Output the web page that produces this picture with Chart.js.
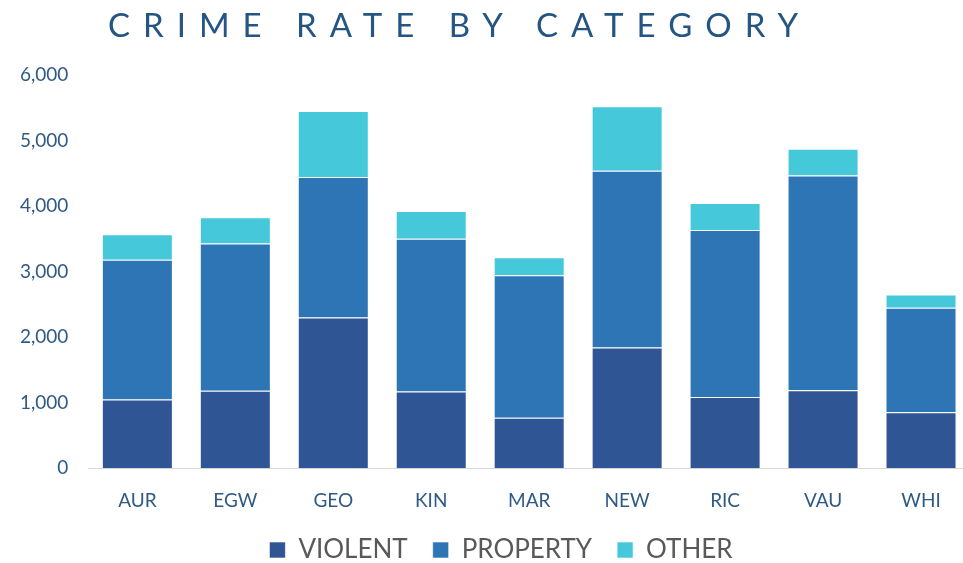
<!DOCTYPE html>
<html>
<head>
<meta charset="utf-8">
<script src="https://cdn.jsdelivr.net/npm/chart.js@4"></script>
<style>
  html, body { margin: 0; padding: 0; background: #fff; overflow: hidden; }
  #wrap { position: relative; width: 963px; height: 563px; overflow: hidden; }
  #title {
    position: absolute; top: 2px; left: 0; width: 963px;
    text-align: center; box-sizing: border-box;
    font-family: Lato, sans-serif; font-size: 33px; font-weight: 400;
    letter-spacing: 13px; color: #245583; margin: 0; line-height: 44px;
    text-indent: -44px; z-index: 2;
  }
  canvas { position: absolute; top: 0; left: 0; }
</style>
</head>
<body>
<div id="wrap">
  <h1 id="title">CRIME RATE BY CATEGORY</h1>
  <canvas id="crimeChart" width="972" height="573"></canvas>
</div>
<script>
// 지역별 범죄 건수
const categories = ['AUR', 'EGW', 'GEO', 'KIN', 'MAR', 'NEW', 'RIC', 'VAU', 'WHI'];
const violent  = [1050, 1180, 2300, 1170, 770, 1840, 1085, 1190, 855];
const property = [2130, 2250, 2145, 2330, 2175, 2700, 2550, 3275, 1595];
const other    = [390, 400, 1005, 425, 275, 985, 410, 410, 200];
const yTicks   = [0, 1000, 2000, 3000, 4000, 5000, 6000];

const seriesNames  = ['VIOLENT', 'PROPERTY', 'OTHER'];
const seriesColors = ['#305595', '#2E75B6', '#46C8DB'];

// 범례를 살짝 오른쪽으로 이동
const legendShift = {
    id: 'legendShift',
    afterLayout(chart) {
        if (chart.legend) chart.legend.left += 32;
    }
};

function createCrimeChart() {
    const canvas = document.getElementById('crimeChart');
    const ctx = canvas.getContext('2d');

    new Chart(ctx, {
        type: 'bar',
        data: {
            labels: categories,
            datasets: [violent, property, other].map((vals, i) => ({
                label: seriesNames[i],
                data: vals,
                backgroundColor: seriesColors[i],
                borderColor: 'rgba(255,255,255,0.6)',
                borderWidth: 1,
                barPercentage: 0.725,
                categoryPercentage: 1
            }))
        },
        options: {
            responsive: false,
            animation: false,
            layout: { padding: { top: 75, left: 0, right: 2, bottom: 0 } },
            plugins: {
                title: { display: false },
                tooltip: { enabled: false },
                legend: {
                    position: 'bottom',
                    labels: {
                        boxWidth: 16,
                        boxHeight: 16,
                        padding: 25,
                        color: '#595959',
                        font: { family: 'Lato', size: 26 }
                    }
                }
            },
            scales: {
                x: {
                    stacked: true,
                    grid: { display: false, drawTicks: false },
                    border: { color: '#D9D9D9', width: 1 },
                    ticks: {
                        color: '#2F5A86',
                        padding: 21,
                        font: { family: 'Lato', size: 19 }
                    },
                    // 범례를 축 라벨 쪽으로 당김
                    afterFit: axis => { axis.height -= 21; }
                },
                y: {
                    stacked: true,
                    min: 0,
                    max: 6000,
                    afterBuildTicks: axis => { axis.ticks = yTicks.map(v => ({ value: v })); },
                    grid: { display: false, drawTicks: false },
                    border: { display: false },
                    ticks: {
                        color: '#2F5A86',
                        padding: 20,
                        font: { family: 'Lato', size: 19 },
                        callback: v => v.toLocaleString('en-US')
                    }
                }
            }
        },
        plugins: [legendShift]
    });
}

createCrimeChart();
</script>
</body>
</html>
